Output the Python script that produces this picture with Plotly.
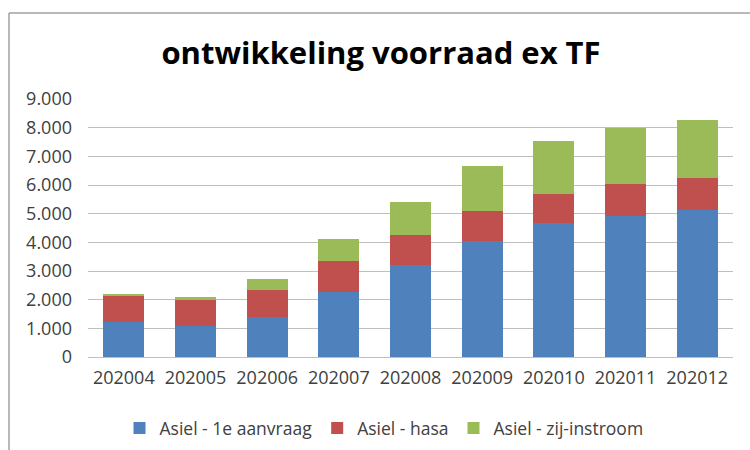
import plotly.graph_objects as go

categories = ["202004", "202005", "202006", "202007", "202008", "202009", "202010", "202011", "202012"]
eerste_aanvraag = [1210, 1080, 1395, 2255, 3205, 4055, 4660, 4935, 5145]
hasa = [940, 905, 925, 1080, 1035, 1045, 1030, 1105, 1105]
zij_instroom = [55, 105, 385, 790, 1160, 1555, 1835, 1940, 2010]
series_names = ["Asiel - 1e aanvraag", "Asiel - hasa", "Asiel - zij-instroom"]
colors = ["#4F81BD", "#C0504D", "#9BBB59"]
y_ticks = [0, 1000, 2000, 3000, 4000, 5000, 6000, 7000, 8000, 9000]

FONT = "Open Sans"
fig = go.Figure()
for name, vals, col in zip(series_names, [eerste_aanvraag, hasa, zij_instroom], colors):
    fig.add_trace(go.Bar(x=categories, y=vals, name=name, marker_color=col,
                         marker_line_width=0))

ml, mr, mt, mb = 88, 17, 99, 93
W, H = 750, 450
pw, ph = W - ml - mr, H - mt - mb

def px(x):
    return (x - ml) / pw

def py(y):
    return (H - mb - y) / ph

fig.update_layout(
    width=W, height=H,
    margin=dict(l=ml, r=mr, t=mt, b=mb, autoexpand=False),
    barmode="stack", bargap=0.43,
    separators=",.",
    paper_bgcolor="white", plot_bgcolor="white",
    font=dict(family=FONT, size=18, color="#404040"),
    title=dict(text="<b>ontwikkeling voorraad ex TF</b>", x=px(381), xref="paper",
               xanchor="center", y=1 - 53 / H, yanchor="middle",
               font=dict(family=FONT, size=31, color="#000000")),
    xaxis=dict(showgrid=False, showline=False, ticks="", tickfont=dict(size=18),
               ticklabelstandoff=8),
    yaxis=dict(range=[0, 9000], tickvals=y_ticks, tickformat=",d", showgrid=True,
               gridcolor="#BFBFBF", gridwidth=1.3, zeroline=True, zerolinecolor="#BFBFBF",
               zerolinewidth=1.3, showline=False, ticks="", ticklabelstandoff=15,
               tickfont=dict(size=18)),
    legend=dict(orientation="h", x=px(384), xanchor="center", y=py(428), yanchor="middle",
                font=dict(size=17.5), traceorder="normal", itemwidth=30),
    shapes=[
        dict(type="line", xref="paper", yref="paper", x0=px(9), x1=px(752), y0=py(13), y1=py(13),
             line=dict(color="#A0A0A0", width=1.5)),
        dict(type="line", xref="paper", yref="paper", x0=px(9), x1=px(9), y0=py(13), y1=py(452),
             line=dict(color="#A0A0A0", width=1.5)),
    ],
)
fig.write_html("out.html", config={"displayModeBar": False},
               post_script="document.body.style.margin='0';document.body.style.overflow='hidden';")
